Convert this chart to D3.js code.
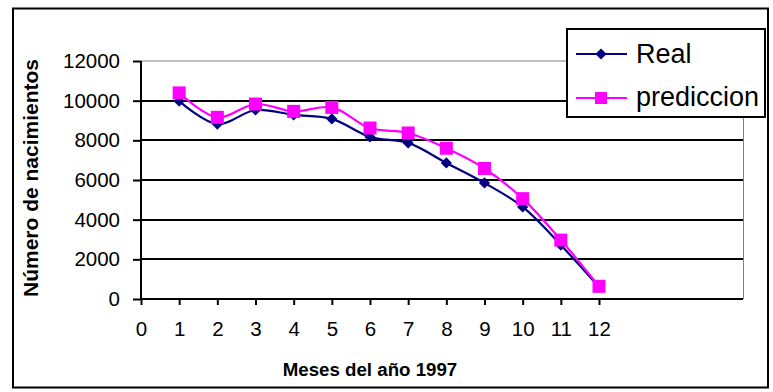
<!DOCTYPE html>
<html><head><meta charset="utf-8">
<script src="https://cdn.jsdelivr.net/npm/d3@7"></script>
<style>
html,body{margin:0;padding:0;background:#fff;}
svg{display:block;font-family:"Liberation Sans",Arial,sans-serif;}
</style></head>
<body><svg id="c" width="773" height="392"></svg>
<script>
const months = [1,2,3,4,5,6,7,8,9,10,11,12];
const realValues = [9980,8820,9530,9280,9080,8170,7870,6860,5850,4640,2720,600];
const predValues = [10390,9160,9830,9460,9660,8620,8370,7600,6580,5060,2970,640];
const xTicks = [0,1,2,3,4,5,6,7,8,9,10,11,12];
const yTicks = [0,2000,4000,6000,8000,10000,12000];
const seriesNames = ["Real","prediccion"];

const svg = d3.select("#c");
svg.append("rect").attr("x",13).attr("y",8.5).attr("width",755).attr("height",379)
  .attr("fill","#fff").attr("stroke","#000").attr("stroke-width",2);

const x = d3.scaleLinear().domain([0,12]).range([141,599]);
const y = d3.scaleLinear().domain([0,12000]).range([299,61]);
const plotRight = 743;

const g = svg.append("g");
yTicks.forEach(t=>{
  if(t===0) return;
  g.append("line").attr("x1",141).attr("x2",plotRight).attr("y1",Math.round(y(t))).attr("y2",Math.round(y(t)))
   .attr("stroke", t===12000?"#808080":"#000").attr("stroke-width", t===12000?1:2);
});
g.append("line").attr("x1",plotRight+0.5).attr("x2",plotRight+0.5).attr("y1",61).attr("y2",299)
  .attr("stroke","#808080").attr("stroke-width",1);

const yAxis = d3.axisLeft(y).tickValues(yTicks).tickSize(8).tickPadding(13).tickFormat(d3.format("d"));
const ya = svg.append("g").attr("transform","translate(141,0)").call(yAxis);
const xAxis = d3.axisBottom(x).tickValues(xTicks).tickSize(6).tickPadding(16).tickFormat(d3.format("d"));
const xa = svg.append("g").attr("transform","translate(0,299)").call(xAxis);
[ya,xa].forEach(a=>{
  a.select(".domain").attr("stroke","#000").attr("stroke-width",2);
  a.selectAll(".tick line").attr("stroke","#000").attr("stroke-width",2);
  a.selectAll(".tick text").attr("fill","#000").style("font-size","20.5px").style("font-family","'Liberation Sans',Arial,sans-serif");
});
ya.select(".domain").attr("d","M0,"+y(12000)+"V"+y(0));
xa.select(".domain").attr("d","M"+x(0)+",0H"+plotRight);

svg.append("text").attr("x",370).attr("y",376).attr("text-anchor","middle")
  .style("font-size","18.7px").style("font-weight","bold").text("Meses del año 1997");
svg.append("text").attr("transform","translate(38,178) rotate(-90)").attr("text-anchor","middle")
  .style("font-size","21px").style("font-weight","bold").text("Número de nacimientos");

const line = d3.line().x(d=>x(d[0])).y(d=>y(d[1])).curve(d3.curveCatmullRom.alpha(0.5));
const realData = months.map((m,i)=>[m,realValues[i]]);
const predData = months.map((m,i)=>[m,predValues[i]]);

svg.append("path").attr("d",line(realData)).attr("fill","none").attr("stroke","#000080").attr("stroke-width",2.2);
const diamond = d3.symbol().type(d3.symbolDiamond2).size(80);
svg.selectAll(".rm").data(realData).join("path").attr("class","rm")
  .attr("d",diamond).attr("transform",d=>`translate(${x(d[0])},${y(d[1])})`).attr("fill","#000080");

svg.append("path").attr("d",line(predData)).attr("fill","none").attr("stroke","#FF00FF").attr("stroke-width",2.2);
svg.selectAll(".pm").data(predData).join("rect").attr("class","pm")
  .attr("x",d=>x(d[0])-6.5).attr("y",d=>y(d[1])-6.5).attr("width",13).attr("height",13).attr("fill","#FF00FF");

const lg = svg.append("g");
lg.append("rect").attr("x",567).attr("y",29).attr("width",198).attr("height",88)
  .attr("fill","#fff").attr("stroke","#000").attr("stroke-width",2);
const legY = [54,98];
const textY = [63,106];
const colors = ["#000080","#FF00FF"];
seriesNames.forEach((n,i)=>{
  lg.append("line").attr("x1",576).attr("x2",627).attr("y1",legY[i]).attr("y2",legY[i])
    .attr("stroke",colors[i]).attr("stroke-width",2);
  if(i===0){
    lg.append("path").attr("d",diamond).attr("transform",`translate(601,${legY[i]})`).attr("fill",colors[i]);
  } else {
    lg.append("rect").attr("x",595).attr("y",legY[i]-6).attr("width",12).attr("height",12).attr("fill",colors[i]);
  }
  lg.append("text").attr("x",636).attr("y",textY[i]).style("font-size","27px").attr("fill","#000").text(n);
});
</script></body></html>
